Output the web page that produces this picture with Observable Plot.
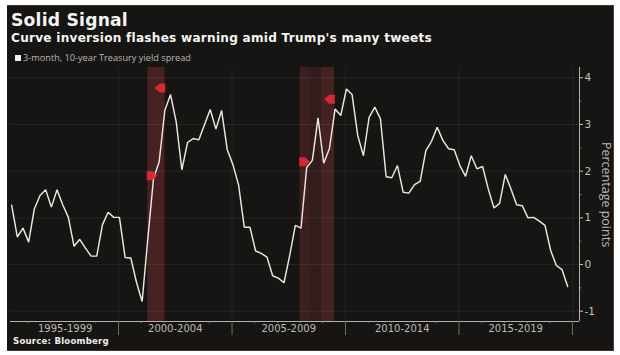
<!DOCTYPE html>
<html>
<head>
<meta charset="utf-8">
<script src="https://cdn.jsdelivr.net/npm/d3@7"></script>
<script src="https://cdn.jsdelivr.net/npm/@observablehq/plot@0.6"></script>
<style>
html,body{margin:0;padding:0;background:#fff;}
#panel{position:absolute;left:7px;top:5px;width:606px;height:344px;background:#161513;border-top:1px solid #4a3a2c;border-right:1px solid #5a3a34;border-bottom:1px solid #3f2f28;box-sizing:content-box;overflow:hidden;font-family:"DejaVu Sans",sans-serif;}
#head{height:56px;position:relative;}
#title{position:absolute;left:4px;top:3px;color:#f4f4f2;font-weight:700;font-size:17.2px;line-height:22px;letter-spacing:.2px;white-space:nowrap;}
#sub{position:absolute;left:4px;top:24px;color:#f4f4f2;font-weight:700;font-size:12.1px;line-height:16px;letter-spacing:.25px;white-space:nowrap;}
#legend{position:absolute;left:8px;top:46px;color:#b9b7b2;font-family:"Open Sans",sans-serif;font-size:9.2px;line-height:12px;white-space:nowrap;}
#legend i{display:inline-block;width:6px;height:6px;background:#f2f2f0;margin-right:2px;vertical-align:0px;}
#chart{position:absolute;left:0;top:56px;}
#chart svg{display:block;}
#source{position:absolute;left:6px;top:329px;color:#eeeeec;font-weight:700;font-size:8.6px;line-height:13px;letter-spacing:.2px;white-space:nowrap;}
</style>
</head>
<body>
<div id="panel">
  <div id="head">
    <div id="title">Solid Signal</div>
    <div id="sub">Curve inversion flashes warning amid Trump's many tweets</div>
    <div id="legend"><i></i>3-month, 10-year Treasury yield spread</div>
  </div>
  <div id="chart"></div>
  <div id="source">Source: Bloomberg</div>
</div>
<script>
const spread = [
  1.27,0.59,0.78,0.48,1.19,1.48,1.60,1.23,1.60,1.28,1.01,0.39,0.54,0.35,0.18,0.18,0.85,1.12,1.01,1.01,
  0.15,0.14,-0.38,-0.79,0.55,1.84,2.20,3.30,3.64,3.06,2.03,2.61,2.70,2.67,3.00,3.32,2.90,3.30,2.46,2.14,
  1.70,0.80,0.80,0.29,0.24,0.16,-0.24,-0.29,-0.39,0.19,0.84,0.78,2.08,2.23,3.14,2.17,2.48,3.33,3.19,3.76,
  3.64,2.76,2.33,3.15,3.37,3.12,1.88,1.86,2.12,1.55,1.53,1.71,1.78,2.44,2.64,2.94,2.66,2.48,2.46,2.12,
  1.89,2.33,2.05,2.10,1.62,1.21,1.31,1.93,1.62,1.28,1.26,1.00,1.01,0.93,0.84,0.30,-0.02,-0.11,-0.47
];
const firstQuarter = 1995.29, quarterStep = 0.25;
const series = spread.map((v, i) => ({date: firstQuarter + i * quarterStep, v}));

const periodLabels = ["1995-1999","2000-2004","2005-2009","2010-2014","2015-2019"];
const periodMids = [1997.65,2002.5,2007.5,2012.5,2017.5];
const periodEdges = [2000,2005,2010,2015,2020];
const years = [1996,1997,1998,1999,2001,2002,2003,2004,2006,2007,2008,2009,2011,2012,2013,2014,2016,2017,2018,2019];
const yTicks = [-1,0,1,2,3,4];
const yMinor = [-0.5,0.5,1.5,2.5,3.5];

const bandStart = [2001.29,2001.29,2008.00,2008.00,2008.40,2008.95];
const bandEnd   = [2002.05,2002.05,2009.52,2008.40,2008.95,2009.52];
const bandAlpha = [0.20,0.08,0.14,0.09,0.02,0.13];
const bands = bandStart.map((s,i)=>({s,e:bandEnd[i],a:bandAlpha[i]}));

const markerX = [2001.45,2001.85,2008.17,2009.32];
const markerY = [1.90,3.78,2.20,3.54];
const markerDir = [180,0,180,0];
const markers = markerX.map((x,i)=>({x,y:markerY[i],r:markerDir[i]}));

const pentagon = {draw(c,size){
  const s=Math.sqrt(size)/2;
  c.moveTo(-s*1.25,0);c.lineTo(-s*0.2,-s*0.95);c.lineTo(s*1.0,-s*0.95);c.lineTo(s*1.0,s*0.95);c.lineTo(-s*0.2,s*0.95);c.closePath();
}};

const ax = "#b4b2ac";
const plot = Plot.plot({
  width: 606, height: 274,
  marginLeft: 3, marginRight: 34, marginTop: 5, marginBottom: 15,
  style: {background:"transparent", color:ax, fontFamily:"'DejaVu Sans',sans-serif", fontSize:"10px"},
  x: {domain:[1995.24,2020.31], label:null},
  y: {domain:[-1.22,4.22], label:null},
  marks: [
    Plot.rect(bands.filter(d=>d.a>0), {x1:"s", x2:"e", y1:-1.22, y2:4.22, fill:"#d8484c", fillOpacity:"a"}),
    Plot.ruleY(yTicks, {stroke:"#fff", strokeOpacity:0.07, strokeWidth:1}),
    Plot.ruleX(periodEdges, {stroke:"#fff", strokeOpacity:0.06, strokeWidth:1}),
    Plot.ruleY([-1.22], {stroke:ax, strokeWidth:1}),
    Plot.ruleX([2020.31], {stroke:ax, strokeWidth:1}),
    Plot.axisX(periodEdges, {anchor:"bottom", tickSize:14, tickFormat:()=>"", stroke:"#6f6d68", label:null}),
    Plot.axisX(years, {anchor:"bottom", tickSize:2, tickFormat:()=>"", stroke:"#8a8882", label:null}),
    Plot.axisX(periodMids, {anchor:"bottom", tickSize:0, tickPadding:3, tickFormat:(d,i)=>periodLabels[i], label:null, fill:"#bcbab4", fontSize:10}),
    Plot.axisY(yMinor, {anchor:"right", tickSize:1.5, tickFormat:()=>"", stroke:"#77756f", label:null}),
    Plot.axisY(yTicks, {anchor:"right", tickSize:3, tickPadding:2, tickFormat:d=>d<0?"-"+(-d):String(d), label:null, fill:"#c4c2bc", stroke:"#c4c2bc", fontSize:10.5}),
    Plot.text(["Percentage points"], {frameAnchor:"right", dx:26, rotate:90, textAnchor:"middle", fill:"#bcbab4", fontSize:12.5, fontFamily:"'Open Sans',sans-serif"}),
    Plot.line(series, {x:"date", y:"v", stroke:"#e9e7e1", strokeWidth:1.45, curve:"linear", strokeLinejoin:"miter"}),
    Plot.dot(markers, {x:"x", y:"y", symbol:pentagon, r:5.4, rotate:"r", fill:"#e62a36", fillOpacity:0.88, stroke:"none"})
  ]
});
document.getElementById("chart").appendChild(plot);
</script>
</body>
</html>
